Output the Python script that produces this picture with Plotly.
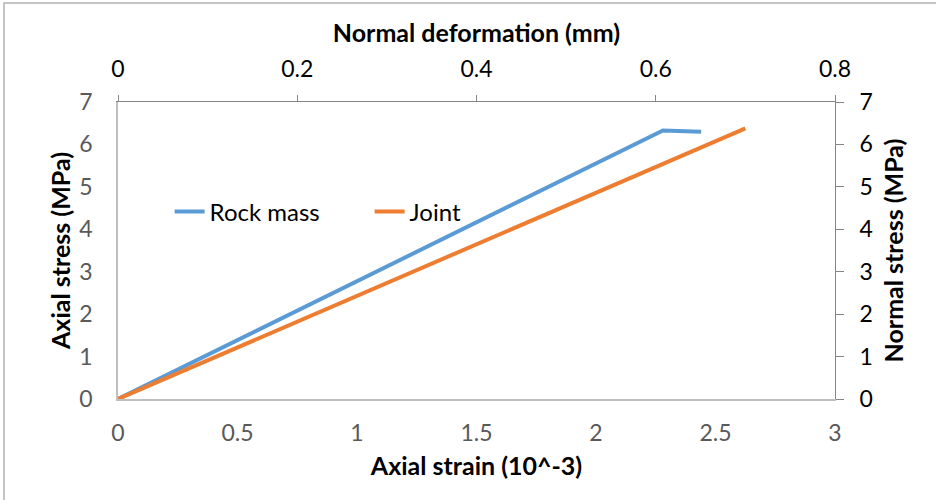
import plotly.graph_objects as go

# Rock mass: axial strain (10^-3) vs axial stress (MPa)
rock_strain = [0.0, 2.28, 2.44]
rock_stress = [0.0, 6.33, 6.30]

# Joint: normal deformation (mm) vs normal stress (MPa)
joint_deform = [0.0, 0.70]
joint_stress = [0.0, 6.38]

strain_ticks = [0, 0.5, 1, 1.5, 2, 2.5, 3]
deform_ticks = [0, 0.2, 0.4, 0.6, 0.8]
stress_ticks = [0, 1, 2, 3, 4, 5, 6, 7]

FONT = "Lato"
BLUE = "#5B9BD5"
ORANGE = "#ED7D31"
TICK_SIZE = 23

fig = go.Figure()
fig.add_trace(go.Scatter(
    x=rock_strain, y=rock_stress, mode="lines", name="Rock mass",
    line=dict(color=BLUE, width=4), xaxis="x", yaxis="y",
))
fig.add_trace(go.Scatter(
    x=joint_deform, y=joint_stress, mode="lines", name="Joint",
    line=dict(color=ORANGE, width=4), xaxis="x2", yaxis="y2",
))

title_font = dict(family=FONT, size=25, color="#000000", weight="bold")

fig.update_layout(
    width=936, height=500,
    margin=dict(l=118, r=101, t=102, b=101),
    paper_bgcolor="white", plot_bgcolor="white",
    font=dict(family=FONT, size=TICK_SIZE, color="#000000"),
    showlegend=True,
    legend=dict(
        orientation="h", x=0.072, y=0.63, xanchor="left", yanchor="middle",
        bgcolor="rgba(0,0,0,0)", font=dict(family=FONT, size=24, color="#000000"),
        itemwidth=30, entrywidth=155, entrywidthmode="pixels",
    ),
    xaxis=dict(
        range=[0, 3], tickvals=strain_ticks, ticktext=[str(v) for v in strain_ticks],
        showgrid=False, zeroline=False, showline=True, linecolor="#bfbfbf", linewidth=1.5,
        ticks="", tickfont=dict(family=FONT, size=TICK_SIZE, color="#595959"),
        ticklabelstandoff=13,
        title=dict(text="Axial strain (10^-3)", font=title_font, standoff=12),
    ),
    yaxis=dict(
        range=[0, 7], tickvals=stress_ticks,
        showgrid=False, zeroline=False, showline=True, linecolor="#bfbfbf", linewidth=1.5,
        ticks="", tickfont=dict(family=FONT, size=TICK_SIZE, color="#595959"),
        ticklabelstandoff=19,
        title=dict(text="Axial stress (MPa)", font=title_font, standoff=2),
    ),
    xaxis2=dict(
        range=[0, 0.8], tickvals=deform_ticks, ticktext=[str(v) for v in deform_ticks],
        overlaying="x", side="top", anchor="y",
        showgrid=False, zeroline=False, showline=True, linecolor="#868686", linewidth=1,
        ticks="outside", ticklen=6, tickcolor="#868686", tickwidth=1,
        tickfont=dict(family=FONT, size=TICK_SIZE, color="#000000"),
        ticklabelstandoff=9,
        title=dict(text="Normal deformation (mm)", font=title_font, standoff=4),
    ),
    yaxis2=dict(
        range=[0, 7], tickvals=stress_ticks,
        overlaying="y", side="right", anchor="x",
        showgrid=False, zeroline=False, showline=True, linecolor="#868686", linewidth=1,
        ticks="outside", ticklen=8, tickcolor="#868686", tickwidth=1,
        tickfont=dict(family=FONT, size=TICK_SIZE, color="#000000"),
        ticklabelstandoff=11,
        title=dict(text="Normal stress (MPa)", font=title_font, standoff=13),
    ),
)

# Chart-area frame
fig.add_shape(
    type="rect", xref="paper", yref="paper",
    x0=(4 - 118) / 717, x1=(940 - 118) / 717,
    y0=(399 - 504) / 297, y1=(399 - 3) / 297,
    line=dict(color="#b3b3b3", width=1.5), fillcolor="rgba(0,0,0,0)", layer="below",
)

fig.write_html("out.html")
